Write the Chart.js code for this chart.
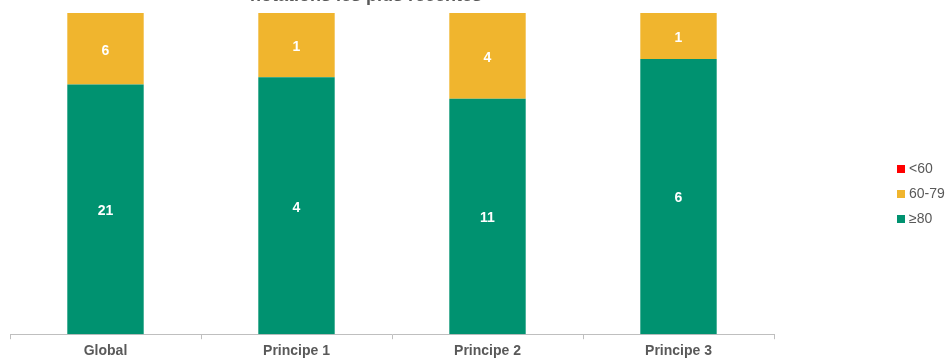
<!DOCTYPE html>
<html lang="fr">
<head>
    <meta charset="UTF-8">
    <title>Notations les plus récentes</title>
    <script src="https://cdn.jsdelivr.net/npm/chart.js"></script>
    <style>
        body {
            margin: 0;
            padding: 0;
            background: #fff;
            font-family: 'Liberation Sans', Arial, sans-serif;
            color: #595959;
            overflow: hidden;
        }
        .chart-container {
            position: relative;
            width: 951px;
            height: 363px;
        }
        #titre {
            position: absolute;
            top: -15px;
            left: 0;
            width: 732px;
            text-align: center;
            font-weight: bold;
            font-size: 18px;
            line-height: 20px;
            color: #595959;
        }
        #legende {
            position: absolute;
            left: 897px;
            top: 159px;
            font-size: 14px;
        }
        #legende div {
            height: 25px;
            line-height: 18px;
            white-space: nowrap;
        }
        #legende span.box {
            display: inline-block;
            width: 8px;
            height: 8px;
            margin-right: 4px;
            vertical-align: 0px;
        }
    </style>
</head>
<body>
    <div class="chart-container">
        <canvas id="notesChart" width="951" height="363"></canvas>
        <div id="titre">notations les plus récentes</div>
        <div id="legende"></div>
    </div>

    <script>
        // catégories et effectifs
        const categories = ['Global', 'Principe 1', 'Principe 2', 'Principe 3'];
        const nbSup80 = [21, 4, 11, 6];
        const nb60a79 = [6, 1, 4, 1];
        const nbInf60 = [0, 0, 0, 0];

        const series = [
            { label: '≥80', counts: nbSup80, color: '#009270' },
            { label: '60-79', counts: nb60a79, color: '#F0B52E' },
            { label: '<60', counts: nbInf60, color: '#FF0000' }
        ];

        const totals = categories.map((c, i) => nbSup80[i] + nb60a79[i] + nbInf60[i]);

        // étiquettes des effectifs au centre des segments
        const etiquettes = {
            id: 'etiquettes',
            afterDatasetsDraw(chart) {
                const ctx = chart.ctx;
                ctx.save();
                ctx.fillStyle = '#fff';
                ctx.font = 'bold 14px "Liberation Sans", Arial, sans-serif';
                ctx.textAlign = 'center';
                ctx.textBaseline = 'middle';
                chart.data.datasets.forEach((ds, d) => {
                    const meta = chart.getDatasetMeta(d);
                    meta.data.forEach((bar, i) => {
                        const n = series[d].counts[i];
                        if (!n) return;
                        const p = bar.getCenterPoint();
                        ctx.fillText(n, p.x, p.y + 2);
                    });
                });
                ctx.restore();
            }
        };

        // légende en HTML, ordre inversé comme sur l'original
        const legende = document.getElementById('legende');
        series.slice().reverse().forEach(s => {
            const row = document.createElement('div');
            row.innerHTML = '<span class="box" style="background:' + s.color + '"></span>' + s.label.replace('<', '&lt;');
            legende.appendChild(row);
        });

        const ctx = document.getElementById('notesChart').getContext('2d');
        new Chart(ctx, {
            type: 'bar',
            data: {
                labels: categories,
                datasets: series.map(s => ({
                    label: s.label,
                    data: s.counts.map((n, i) => n / totals[i] * 100),
                    backgroundColor: s.color,
                    borderWidth: 0,
                    categoryPercentage: 0.4,
                    barPercentage: 1
                }))
            },
            options: {
                responsive: false,
                animation: false,
                layout: {
                    padding: { top: 13, right: 177, bottom: 0, left: 10 }
                },
                scales: {
                    x: {
                        stacked: true,
                        grid: {
                            offset: true,
                            drawOnChartArea: false,
                            drawTicks: true,
                            tickLength: 5,
                            color: '#BFBFBF'
                        },
                        border: { display: true, color: '#BFBFBF' },
                        ticks: {
                            padding: 3.5,
                            color: '#595959',
                            font: { family: '"Liberation Sans", Arial, sans-serif', size: 14, weight: 'bold' }
                        }
                    },
                    y: {
                        stacked: true,
                        display: false,
                        min: 0,
                        max: 100
                    }
                },
                plugins: {
                    legend: { display: false },
                    title: { display: false },
                    tooltip: { enabled: false }
                }
            },
            plugins: [etiquettes]
        });
    </script>
</body>
</html>
